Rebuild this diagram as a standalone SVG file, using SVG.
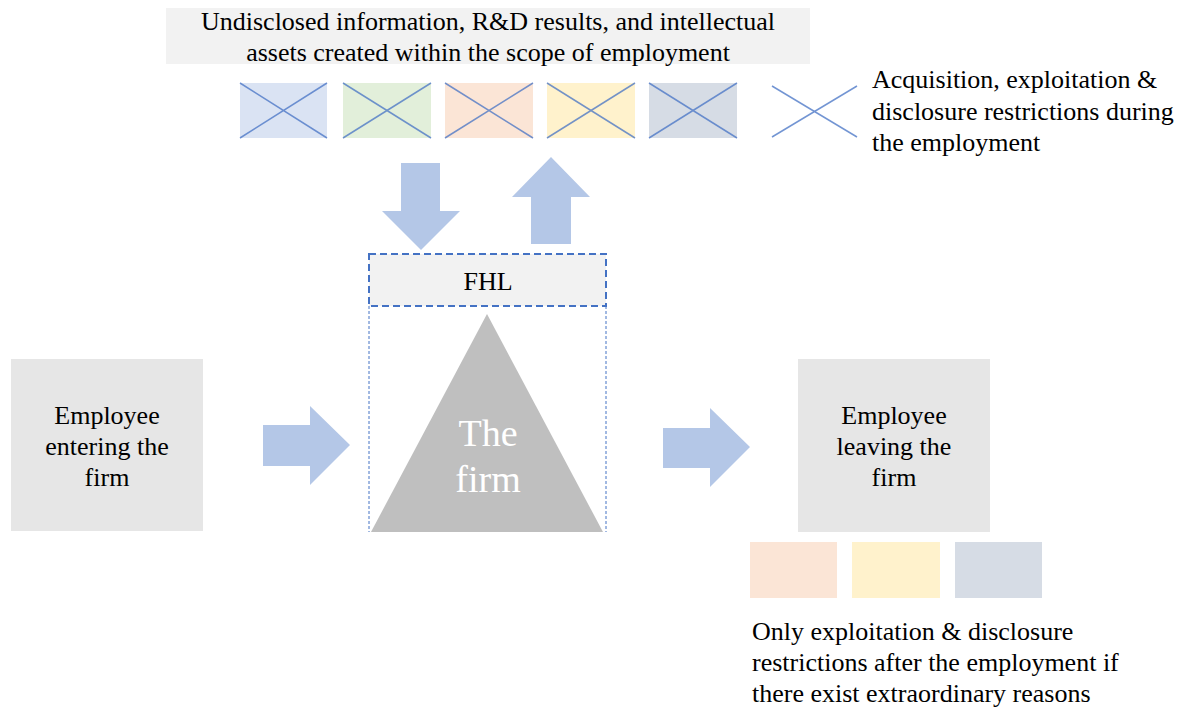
<svg xmlns="http://www.w3.org/2000/svg" width="1181" height="709" viewBox="0 0 1181 709">
<style>
  .t { font-family: "Liberation Serif", "Times New Roman", serif; font-size: 26px; fill: #000; }
  .mid { text-anchor: middle; }
  .arrow { fill: #b4c7e7; }
  .x { stroke: #4472c4; stroke-opacity: 0.75; stroke-width: 1.5; fill: none; }
  .box { fill: #e6e6e6; }
</style>
<rect width="1181" height="709" fill="#ffffff"/>

<g id="top-label">
  <rect x="166" y="8" width="644" height="56" fill="#f2f2f2"/>
  <text class="t mid" font-family="Liberation Serif, serif" x="488" y="30">Undisclosed information, R&amp;D results, and intellectual</text>
  <text class="t mid" font-family="Liberation Serif, serif" x="488" y="61">assets created within the scope of employment</text>
</g>

<g id="asset-squares">
  <rect x="240" y="83" width="87" height="55" fill="#dae3f3"/>
  <path class="x" d="M240 83 L327 138 M327 83 L240 138"/>
  <rect x="343" y="83" width="88" height="55" fill="#e2efda"/>
  <path class="x" d="M343 83 L431 138 M431 83 L343 138"/>
  <rect x="445" y="83" width="88" height="55" fill="#fbe5d6"/>
  <path class="x" d="M445 83 L533 138 M533 83 L445 138"/>
  <rect x="547" y="83" width="88" height="55" fill="#fff2cc"/>
  <path class="x" d="M547 83 L635 138 M635 83 L547 138"/>
  <rect x="649" y="83" width="88" height="55" fill="#d6dce5"/>
  <path class="x" d="M649 83 L737 138 M737 83 L649 138"/>
</g>

<g id="legend-during">
  <path class="x" d="M772 86 L857 137 M857 86 L772 137"/>
  <text class="t" font-family="Liberation Serif, serif" x="872" y="88">Acquisition, exploitation &amp;</text>
  <text class="t" font-family="Liberation Serif, serif" x="872" y="120">disclosure restrictions during</text>
  <text class="t" font-family="Liberation Serif, serif" x="872" y="151">the employment</text>
</g>

<g id="firm">
  <path d="M369 306 L369 532 M606 306 L606 532" stroke="#4472c4" stroke-width="1" stroke-dasharray="3 2" fill="none"/>
  <polygon points="487,314 603,532 371,532" fill="#bfbfbf"/>
  <text class="t mid" font-family="Liberation Serif, serif" x="488" y="446" style="font-size:38px; fill:#ffffff">The</text>
  <text class="t mid" font-family="Liberation Serif, serif" x="488" y="492" style="font-size:38px; fill:#ffffff">firm</text>
</g>

<g id="fhl">
  <rect x="369" y="254" width="237" height="52" fill="#f2f2f2" stroke="#4472c4" stroke-width="2" stroke-dasharray="7 4"/>
  <text class="t mid" font-family="Liberation Serif, serif" x="488" y="290">FHL</text>
</g>

<g id="employee-entering">
  <rect class="box" x="11" y="359" width="192" height="172"/>
  <text class="t mid" font-family="Liberation Serif, serif" x="107" y="424">Employee</text>
  <text class="t mid" font-family="Liberation Serif, serif" x="107" y="455">entering the</text>
  <text class="t mid" font-family="Liberation Serif, serif" x="107" y="486">firm</text>
</g>

<g id="employee-leaving">
  <rect class="box" x="798" y="359" width="192" height="173"/>
  <text class="t mid" font-family="Liberation Serif, serif" x="894" y="424">Employee</text>
  <text class="t mid" font-family="Liberation Serif, serif" x="894" y="455">leaving the</text>
  <text class="t mid" font-family="Liberation Serif, serif" x="894" y="486">firm</text>
</g>

<g id="after-squares">
  <rect x="750" y="542" width="87" height="56" fill="#fbe5d6"/>
  <rect x="852" y="542" width="88" height="56" fill="#fff2cc"/>
  <rect x="955" y="542" width="87" height="56" fill="#d6dce5"/>
  <text class="t" font-family="Liberation Serif, serif" x="752" y="640">Only exploitation &amp; disclosure</text>
  <text class="t" font-family="Liberation Serif, serif" x="752" y="671">restrictions after the employment if</text>
  <text class="t" font-family="Liberation Serif, serif" x="752" y="702">there exist extraordinary reasons</text>
</g>

<g id="connectors">
  <polygon class="arrow" points="401,163 440,163 440,211 460,211 421,250 382,211 401,211"/>
  <polygon class="arrow" points="551,157 590,197 571,197 571,244 531,244 531,197 512,197"/>
  <polygon class="arrow" points="263,425 310,425 310,406 350,445 310,485 310,466 263,466"/>
  <polygon class="arrow" points="663,428 710,428 710,408 750,447 710,487 710,468 663,468"/>
</g>
</svg>
